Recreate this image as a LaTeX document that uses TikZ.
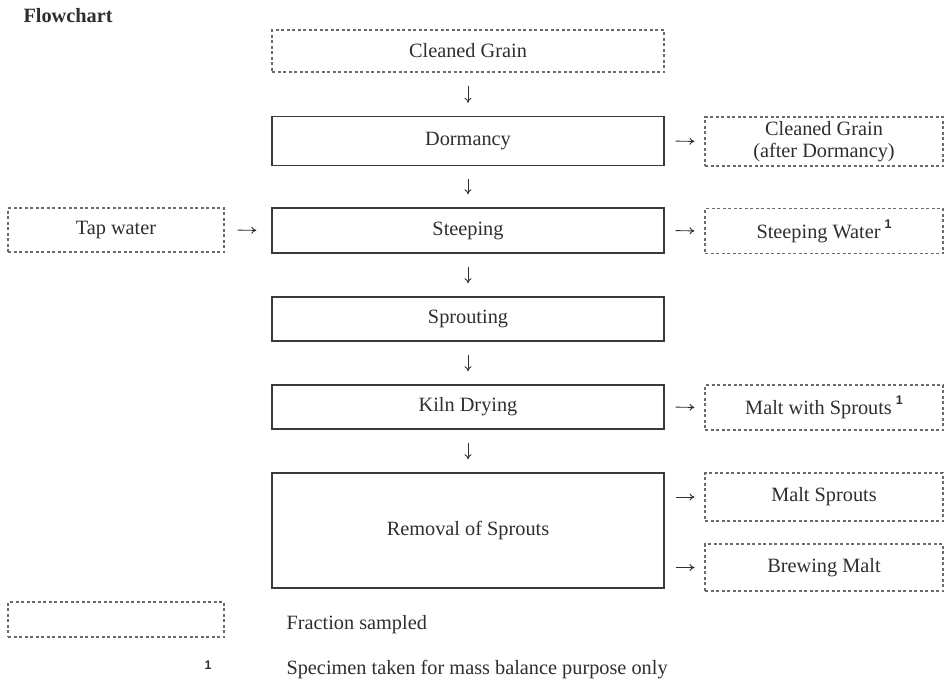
\documentclass[tikz,border=0pt]{standalone}
\usepackage{fontspec}
\setmainfont{Liberation Serif}
\newfontfamily\supfont{Liberation Sans}
\usetikzlibrary{arrows.meta}
\definecolor{txt}{HTML}{2E2E2E}
\definecolor{solidline}{HTML}{3A3A3A}
\definecolor{dashline}{HTML}{6A6A6A}
\newcommand{\sone}{\hspace{4pt}\raisebox{0.5em}{\supfont\bfseries\fontsize{12.5}{13}\selectfont 1}}
\tikzset{
  every node/.style={font=\fontsize{20.3}{23}\selectfont, text=txt},
  procbox/.style={draw=solidline, line width=1.4pt, minimum width=392pt, inner sep=0pt, align=center},
  sampbox/.style={draw=dashline, line width=1.1pt, dash pattern=on 3pt off 2.5pt, inner sep=0pt, align=center},
  flowarrow/.style={-{To[length=5pt,width=7pt]}, line width=0.9pt, draw=txt},
  downarrow/.style={flowarrow, shorten <=13pt, shorten >=13pt},
  rightarrow/.style={flowarrow, shorten <=11pt, shorten >=10pt}
}
\begin{document}
\begin{tikzpicture}[x=1pt,y=-1pt]
\useasboundingbox (0,0) rectangle (949,688);
% title
\node[anchor=west, font=\fontsize{20.3}{23}\selectfont\bfseries] (title) at (20,16) {Flowchart};
% main column
\node[sampbox, minimum width=392pt, minimum height=42pt] (cg) at (468,51) {Cleaned Grain};
\node[procbox, minimum height=49pt] (dorm) at (468,141) {Dormancy};
\node[procbox, minimum height=45pt] (steep) at (468,230.5) {Steeping};
\node[procbox, minimum height=44pt] (sprout) at (468,319) {Sprouting};
\node[procbox, minimum height=44pt] (kiln) at (468,407) {Kiln Drying};
\node[procbox, minimum height=115pt] (rem) at (468,530.5) {Removal of Sprouts};
% left input
\node[sampbox, minimum width=216pt, minimum height=44pt] (tap) at (116,230) {Tap water};
% right samples
\node[sampbox, minimum width=238pt, minimum height=49pt] (cga) at (824,141.5) {Cleaned Grain\\[-1pt](after Dormancy)};
\node[sampbox, minimum width=238pt, minimum height=45pt] (sw) at (824,231) {Steeping Water\sone};
\node[sampbox, minimum width=238pt, minimum height=45pt] (mws) at (824,407.5) {Malt with Sprouts\sone};
\node[sampbox, minimum width=238pt, minimum height=48pt] (ms) at (824,497) {Malt Sprouts};
\node[sampbox, minimum width=238pt, minimum height=47pt] (bm) at (824,567.5) {Brewing Malt};
% arrows down
\draw[downarrow] (cg.south) -- (dorm.north);
\draw[downarrow] (dorm.south) -- (steep.north);
\draw[downarrow] (steep.south) -- (sprout.north);
\draw[downarrow] (sprout.south) -- (kiln.north);
\draw[downarrow] (kiln.south) -- (rem.north);
% arrows right
\draw[flowarrow, shorten <=13pt, shorten >=15pt] (tap.east) -- (steep.west);
\draw[rightarrow] (dorm.east) -- (cga.west);
\draw[rightarrow] (steep.east) -- (sw.west);
\draw[rightarrow] (kiln.east) -- (mws.west);
\draw[rightarrow] (rem.east |- ms.west) -- (ms.west);
\draw[rightarrow] (rem.east |- bm.west) -- (bm.west);
% legend
\node[sampbox, minimum width=216pt, minimum height=35pt] (legbox) at (116,619.5) {};
\node[anchor=west] (legtxt) at (283,625) {Fraction sampled};
\node[font=\supfont\bfseries\fontsize{12.5}{13}\selectfont] (legone) at (208,665) {1};
\node[anchor=west] (legtxt2) at (283,670) {Specimen taken for mass balance purpose only};
\end{tikzpicture}
\end{document}
